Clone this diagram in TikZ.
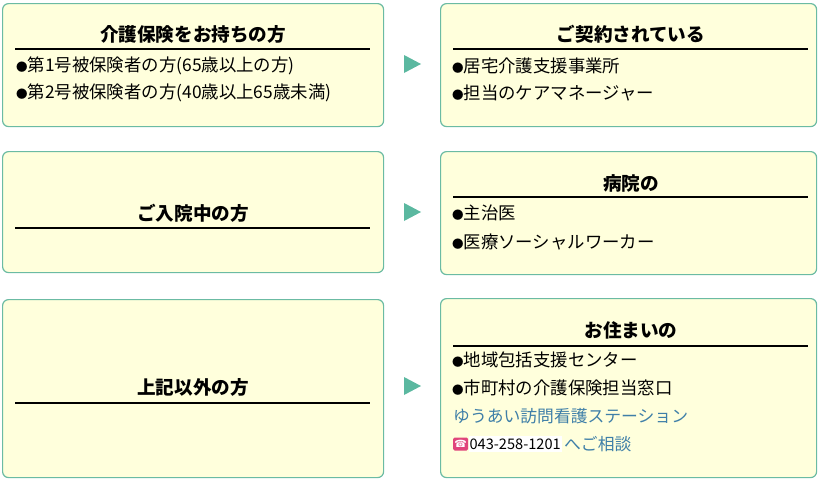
\documentclass[tikz,border=0pt]{standalone}
\usepackage{fontspec}
\setmainfont{Noto Sans CJK JP}
\newfontfamily\symfont{DejaVu Sans}
\newcommand{\bul}{{\fontsize{11.5}{12}\selectfont ●}}
\definecolor{boxline}{HTML}{6BBBA3}
\definecolor{boxfill}{HTML}{FFFFDC}
\definecolor{arrowfill}{HTML}{5BB8A0}
\definecolor{linktext}{HTML}{3F7FA8}
\definecolor{phonepink}{HTML}{E0457B}

\begin{document}
\begin{tikzpicture}[x=1pt,y=-1pt,
        box/.style={draw=boxline, line width=1.2pt, fill=boxfill, rounded corners=6pt,
            anchor=north west, inner sep=0pt},
        head/.style={inner sep=0pt, font=\fontsize{18.6}{20}\selectfont\bfseries},
        item/.style={anchor=west, inner sep=0pt, font=\fontsize{17.4}{19}\selectfont},
        rule/.style={line width=1.2pt},
        pointer/.style={fill=arrowfill}]
    \useasboundingbox (0,0) rectangle (818,479);
    % left column
    \node[box, minimum width=381pt, minimum height=123pt] (who1) at (2,3) {};
    \node[box, minimum width=381pt, minimum height=121pt] (who2) at (2,151) {};
    \node[box, minimum width=381pt, minimum height=178pt] (who3) at (2,299) {};
    % right column
    \node[box, minimum width=376pt, minimum height=123pt] (ask1) at (440,3) {};
    \node[box, minimum width=376pt, minimum height=123pt] (ask2) at (440,151) {};
    \node[box, minimum width=376pt, minimum height=179pt] (ask3) at (440,298) {};

    \node[head] (t1) at (193,34) {介護保険をお持ちの方};
    \draw[rule] (15,49) -- (370,49);
    \node[item] (i11) at (16,66) {\bul 第1号被保険者の方(65歳以上の方)};
    \node[item] (i12) at (16,93) {\bul 第2号被保険者の方(40歳以上65歳未満)};

    \node[head] (t2) at (193,213) {ご入院中の方};
    \draw[rule] (15,228) -- (370,228);

    \node[head] (t3) at (193,387) {上記以外の方};
    \draw[rule] (15,403) -- (370,403);

    \node[head] (s1) at (631,34) {ご契約されている};
    \draw[rule] (453,49) -- (808,49);
    \node[item] (j11) at (452,66) {\bul 居宅介護支援事業所};
    \node[item] (j12) at (452,93) {\bul 担当のケアマネージャー};

    \node[head] (s2) at (631,183) {病院の};
    \draw[rule] (453,197) -- (808,197);
    \node[item] (j21) at (452,213) {\bul 主治医};
    \node[item] (j22) at (452,242) {\bul 医療ソーシャルワーカー};

    \node[head] (s3) at (631,330) {お住まいの};
    \draw[rule] (453,346) -- (808,346);
    \node[item] (j31) at (452,360) {\bul 地域包括支援センター};
    \node[item] (j32) at (452,388) {\bul 市町村の介護保険担当窓口};
    \node[item, text=linktext, font=\fontsize{16.8}{18}\selectfont] (j33) at (453,416)
        {ゆうあい訪問看護ステーション};
    \node[fill=phonepink, rounded corners=1.5pt, minimum width=15pt, minimum height=13pt,
        inner sep=0pt, anchor=west, text=white, font=\symfont\fontsize{10}{10}\selectfont]
        (tel) at (453,444) {☎};
    \node[fill=white, anchor=west, inner sep=1pt, minimum height=16pt,
        font=\fontsize{14.6}{16}\selectfont] (num) at (tel.east) {043-258-1201\hspace{8pt}};
    \node[item, text=linktext, font=\fontsize{16.8}{18}\selectfont] (j34)
        at ([xshift=2pt]num.east) {へご相談};

    % pointers
    \coordinate (p1) at (404,64);
    \coordinate (p2) at (404,212);
    \coordinate (p3) at (404,386);
    \foreach \p in {p1,p2,p3}
        \fill[pointer] (\p) ++(0,-9) -- ++(17,9) -- ++(-17,9) -- cycle;
\end{tikzpicture}
\end{document}
